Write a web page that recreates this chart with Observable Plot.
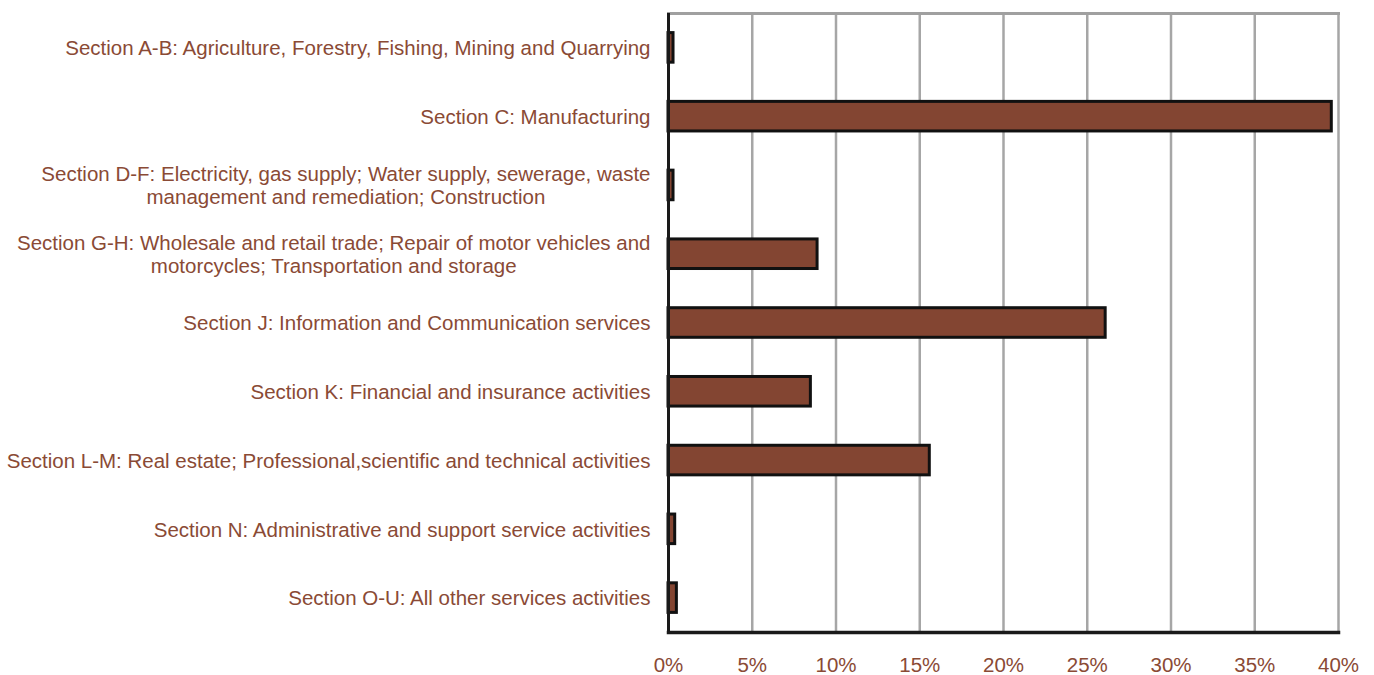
<!DOCTYPE html>
<html>
<head>
<meta charset="utf-8">
<script src="https://cdn.jsdelivr.net/npm/d3@7"></script>
<script src="https://cdn.jsdelivr.net/npm/@observablehq/plot@0.6"></script>
<style>
  html, body { margin: 0; padding: 0; background: #fff; }
  svg { display: block; }
</style>
</head>
<body>
<div id="chart"></div>
<script>
const categories = [
  "Section A-B: Agriculture, Forestry, Fishing, Mining and Quarrying",
  "Section C: Manufacturing",
  "Section D-F: Electricity, gas supply; Water supply, sewerage, waste\nmanagement and remediation; Construction",
  "Section G-H: Wholesale and retail trade; Repair of motor vehicles and\nmotorcycles; Transportation and storage",
  "Section J: Information and Communication services",
  "Section K: Financial and insurance activities",
  "Section L-M: Real estate; Professional,scientific and technical activities",
  "Section N: Administrative and support service activities",
  "Section O-U: All other services activities"
];
const shares = [0.003, 0.396, 0.003, 0.089, 0.261, 0.085, 0.156, 0.004, 0.005];
const xTicks = [0, 0.05, 0.10, 0.15, 0.20, 0.25, 0.30, 0.35, 0.40];
const gridTicks = [0.05, 0.10, 0.15, 0.20, 0.25, 0.30, 0.35, 0.40];

const data = categories.map((c, i) => ({category: c, share: shares[i]}));
const brown = "#8a4a35";

const chart = Plot.plot({
  width: 1374,
  height: 675,
  marginLeft: 668,
  marginRight: 36,
  marginTop: 13,
  marginBottom: 43,
  style: {fontFamily: "'Liberation Sans', Arial, sans-serif", background: "#fff"},
  x: {domain: [0, 0.4]},
  y: {domain: categories, paddingInner: 0.57, paddingOuter: 0.285, round: false},
  marks: [
    Plot.ruleX(gridTicks, {stroke: "#a6a6a6", strokeWidth: 2.5}),
    Plot.frame({anchor: "top", stroke: "#a0a0a0", strokeWidth: 3}),
    Plot.barX(data, {x: "share", y: "category", fill: "#834532", stroke: "#111", strokeWidth: 3}),
    Plot.ruleX([0], {stroke: "#1a1a1a", strokeWidth: 3}),
    Plot.frame({anchor: "bottom", stroke: "#1a1a1a", strokeWidth: 3.5}),
    Plot.axisX(xTicks, {
      tickFormat: d3.format(".0%"), tickSize: 0, tickPadding: 25,
      fontSize: 20.5, fill: brown, label: null
    }),
    Plot.axisY({
      tickSize: 0, tickPadding: 18, fontSize: 20.5, fill: brown,
      lineHeight: 1.12, label: null, textOverflow: null, lineWidth: Infinity
    })
  ]
});
document.getElementById("chart").appendChild(chart);

// centre multi-line category labels on their own longest line (right-aligned block)
chart.querySelectorAll('g[aria-label="y-axis tick label"] text').forEach(t => {
  const spans = t.querySelectorAll("tspan");
  if (spans.length > 1) {
    const w = t.getBBox().width;
    t.setAttribute("text-anchor", "middle");
    spans.forEach(s => s.setAttribute("x", -w / 2));
  }
});
</script>
</body>
</html>
